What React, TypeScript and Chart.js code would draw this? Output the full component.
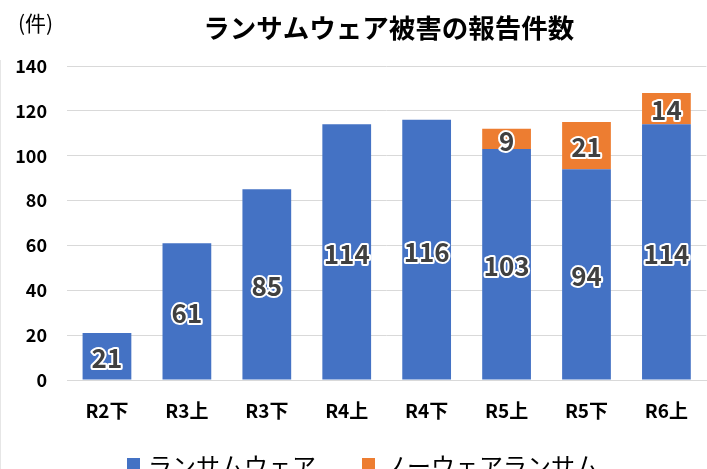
import React, { useEffect, useRef } from "react";
import { Chart, registerables } from "chart.js";

Chart.register(...registerables);

const categories = ["R2下", "R3上", "R3下", "R4上", "R4下", "R5上", "R5下", "R6上"];
const ransomware = [21, 61, 85, 114, 116, 103, 94, 114];
const noware: (number | null)[] = [null, null, null, null, null, 9, 21, 14];
const seriesNames = ["ランサムウェア", "ノーウェアランサム"];
const seriesColors = ["#4472C4", "#ED7D31"];
const chartTitle = "ランサムウェア被害の報告件数";
const unitLabel = "(件)";
const yMax = 140;
const yStep = 20;

const FONT = '"Noto Sans CJK JP", "Noto Sans", sans-serif';

const valueLabelPlugin = {
  id: "valueLabels",
  afterDatasetsDraw(chart: any) {
    const ctx = chart.ctx;
    ctx.save();
    ctx.font = `bold 26px ${FONT}`;
    ctx.textAlign = "center";
    ctx.textBaseline = "middle";
    ctx.lineJoin = "round";
    chart.data.datasets.forEach((ds: any, di: number) => {
      const meta = chart.getDatasetMeta(di);
      meta.data.forEach((el: any, i: number) => {
        const v = ds.data[i];
        if (v === null || v === undefined) return;
        const x = el.x;
        const y = (el.y + el.base) / 2 + 2;
        const txt = String(v);
        ctx.lineWidth = 4;
        ctx.strokeStyle = "#ffffff";
        ctx.strokeText(txt, x, y);
        ctx.fillStyle = "#404040";
        ctx.fillText(txt, x, y);
      });
    });
    ctx.restore();
  },
};

const decorPlugin = {
  id: "decor",
  afterDraw(chart: any) {
    const ctx = chart.ctx;
    const area = chart.chartArea;
    ctx.save();
    // title
    ctx.fillStyle = "#000000";
    ctx.font = `bold 26.5px ${FONT}`;
    ctx.textAlign = "center";
    ctx.textBaseline = "middle";
    ctx.fillText(chartTitle, (area.left + area.right) / 2 + 2, 28);
    // unit
    ctx.font = `21px ${FONT}`;
    ctx.textAlign = "left";
    ctx.fillText(unitLabel, 18, 23);
    // legend
    ctx.font = `24px ${FONT}`;
    ctx.textBaseline = "middle";
    const legendY = 466;
    const xs = [127, 362];
    seriesNames.forEach((name, i) => {
      ctx.fillStyle = seriesColors[i];
      ctx.fillRect(xs[i], legendY - 8, 13, 13);
      ctx.fillStyle = "#000000";
      ctx.fillText(name, xs[i] + 21, legendY);
    });
    // faint left border
    ctx.strokeStyle = "#e6e6e6";
    ctx.lineWidth = 1;
    ctx.beginPath();
    ctx.moveTo(0.5, 60);
    ctx.lineTo(0.5, 469);
    ctx.stroke();
    ctx.restore();
  },
};

export default function App() {
  const ref = useRef<HTMLCanvasElement | null>(null);
  useEffect(() => {
    document.body.style.margin = "0";
    document.body.style.overflow = "hidden";
    const canvas = ref.current!;
    const chart = new Chart(canvas, {
      type: "bar",
      data: {
        labels: categories,
        datasets: [
          {
            label: seriesNames[0],
            data: ransomware,
            backgroundColor: seriesColors[0],
            barPercentage: 0.61,
            categoryPercentage: 1,
          },
          {
            label: seriesNames[1],
            data: noware,
            backgroundColor: seriesColors[1],
            barPercentage: 0.61,
            categoryPercentage: 1,
          },
        ],
      },
      options: {
        responsive: false,
        animation: false,
        devicePixelRatio: 1,
        layout: { padding: { top: 66, right: 0, left: 0, bottom: 0 } },
        plugins: {
          legend: { display: false },
          title: { display: false },
          tooltip: { enabled: false },
        },
        scales: {
          x: {
            stacked: true,
            grid: { display: false, drawTicks: false },
            border: { display: true, color: "#d9d9d9" },
            ticks: {
              color: "#000000",
              font: { family: FONT, size: 19, weight: "bold" },
              padding: 19,
            },
            afterFit(scale: any) {
              scale.height = 89;
            },
          },
          y: {
            stacked: true,
            min: 0,
            max: yMax,
            grid: { color: "#d9d9d9", drawTicks: false },
            border: { display: false },
            ticks: {
              stepSize: yStep,
              color: "#000000",
              font: { family: FONT, size: 18, weight: "bold" },
              padding: 20,
            },
            afterFit(scale: any) {
              scale.width = 67;
            },
          },
        },
      },
      plugins: [valueLabelPlugin, decorPlugin],
    });
    return () => chart.destroy();
  }, []);
  return (
    <div style={{ width: 707, height: 469, overflow: "hidden" }}>
      <canvas ref={ref} width={707} height={469} style={{ display: "block" }} />
    </div>
  );
}
